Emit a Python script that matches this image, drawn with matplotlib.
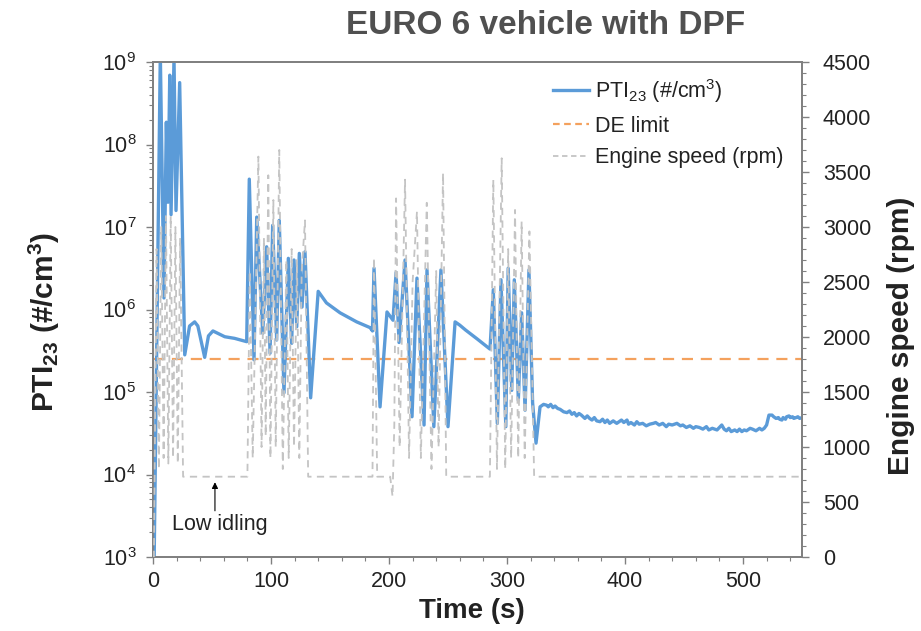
import matplotlib
matplotlib.use("Agg")
import matplotlib.pyplot as plt
import numpy as np
from matplotlib.ticker import MultipleLocator, FixedLocator, LogLocator, NullFormatter
from matplotlib.lines import Line2D

plt.rcParams['font.family'] = ['Liberation Sans', 'DejaVu Sans']
plt.rcParams['mathtext.fontset'] = 'custom'
plt.rcParams['mathtext.rm'] = 'Liberation Sans'
plt.rcParams['mathtext.it'] = 'Liberation Sans:italic'
plt.rcParams['mathtext.bf'] = 'Liberation Sans:bold'

# ---------------- data ----------------
# PTI23 (#/cm3): time (s) and log10 of concentration, driving part
pti_time = [0, 1.0, 6.2, 9.3, 11.3, 12.7, 14.2, 15.3, 17.8, 19.5, 22.6, 26.9,
            31, 35.3, 38, 43.8, 47, 50.8, 60.8, 69.2, 79.4,
            81.6, 85.6, 87.9, 93, 96.3, 99.2, 101.4, 104.8, 107, 111, 114.7,
            117.5, 119.5, 121.8, 124, 126.3, 128.8, 133.6, 140, 147, 158.5,
            172.6, 184, 186,
            187.3, 192.4, 198.3, 203.4, 206, 208.5, 213.6, 219.5, 223.7, 229.7,
            232.2, 238, 244, 250, 256, 260, 265, 275, 285.6,
            288.4, 291.8, 294.9, 299, 301, 304, 306.2, 309.6, 312.4, 315.3,
            318.6, 321.7, 324.6, 328, 331, 333.6]
pti_log = [3.0, 3.0, 9.1, 6.14, 8.27, 7.3, 8.84, 7.15, 9.05, 7.2, 8.75, 5.45,
           5.8, 5.85, 5.8, 5.42, 5.68, 5.74, 5.67, 5.65, 5.61,
           7.58, 5.39, 7.12, 5.71, 6.76, 5.47, 7.02, 5.63, 7.08, 4.99, 6.62,
           5.59, 6.6, 5.79, 6.68, 6.03, 6.7, 4.93, 6.22, 6.08, 5.96,
           5.85, 5.78, 5.74,
           6.50, 4.82, 5.97, 5.87, 6.45, 5.6, 6.6, 4.7, 6.38, 4.6,
           6.48, 4.58, 6.48, 4.58, 5.85, 5.81, 5.75, 5.64, 5.52,
           6.24, 4.62, 6.36, 4.58, 6.5, 5.02, 6.36, 4.9, 5.96, 4.78,
           6.48, 4.87, 4.38, 4.82, 4.85, 4.84]
# PTI23 idle tail
tail_time = [335, 337, 339, 340.7, 343, 345, 348, 350.8, 353, 355,
             357, 359, 361, 363, 366, 368, 370, 372, 374, 376,
             378.8, 381, 383, 385, 387, 390, 393, 395, 397, 399,
             401.7, 403, 405, 408, 410, 412, 415, 418, 421, 424,
             426, 429, 432, 435, 437, 440, 444, 447, 449, 452,
             455, 458, 460, 463, 466, 469, 471, 474, 478, 480,
             482, 484, 486, 488, 490, 493, 495, 497, 499, 501,
             503, 506, 508, 511, 514, 516, 518, 520, 521, 522,
             524.6, 526, 528, 530, 531, 533, 534, 536, 537, 539,
             540, 542, 543, 545, 546.5, 548, 550]
tail_log = [4.82, 4.85, 4.81, 4.83, 4.80, 4.79, 4.76, 4.75, 4.77, 4.73,
            4.75, 4.71, 4.74, 4.72, 4.68, 4.71, 4.68, 4.66, 4.69, 4.65,
            4.64, 4.67, 4.63, 4.66, 4.62, 4.65, 4.62, 4.64, 4.66, 4.63,
            4.66, 4.61, 4.63, 4.60, 4.64, 4.61, 4.62, 4.59, 4.61, 4.62,
            4.63, 4.60, 4.62, 4.58, 4.61, 4.60, 4.62, 4.59, 4.60, 4.57,
            4.59, 4.56, 4.58, 4.57, 4.55, 4.58, 4.54, 4.56, 4.54, 4.57,
            4.60, 4.55, 4.53, 4.56, 4.52, 4.54, 4.52, 4.55, 4.52, 4.54,
            4.53, 4.56, 4.55, 4.53, 4.56, 4.54, 4.56, 4.60, 4.66, 4.72,
            4.72, 4.70, 4.68, 4.69, 4.67, 4.66, 4.69, 4.67, 4.70, 4.71,
            4.69, 4.70, 4.68, 4.69, 4.70, 4.68, 4.69]

# Engine speed (rpm)
rpm_time = [0, 0.8, 1.5, 3, 5, 7, 9, 11, 13, 15, 17, 19, 21, 23, 25.5,
            80, 82, 84.5, 89.3, 92, 94, 95.5, 97.7, 99.5, 102, 104, 107, 110,
            113, 115, 117.5, 119.5, 122, 124, 126, 128.8, 131.5,
            186, 187.3, 190, 201, 203, 204.5, 206, 209, 213.6, 217, 220, 223.7,
            227, 232, 236, 240, 242, 245.8, 248.5,
            285.5, 288.4, 291.5, 295.5, 298.5, 301, 303.5, 306.8, 309.5, 312.4,
            315, 319, 323, 550]
rpm_value = [0, 0, 900, 2800, 800, 3000, 900, 3100, 850, 3100, 900, 3000, 850, 2900, 730,
             730, 2600, 900, 3640, 1000, 2900, 1100, 3470, 900, 3245, 1000, 3700, 800,
             2700, 900, 2800, 1000, 2700, 900, 2600, 3060, 730,
             730, 2720, 730, 730, 550, 1200, 3260, 1000, 3430, 900, 2500, 3140,
             900, 3220, 800, 2600, 1000, 3490, 730,
             730, 3430, 800, 3625, 800, 2800, 900, 3155, 900, 3050,
             900, 2960, 730, 730]

de_limit = 2.5e5

title_text = "EURO 6 vehicle with DPF"
xlabel_text = "Time (s)"
ylabel_left = r"$\mathbf{PTI_{23}\ (\#/cm^{3})}$"
ylabel_right = "Engine speed (rpm)"
legend_labels = [r"PTI$_{23}$ (#/cm$^{3}$)", "DE limit", "Engine speed (rpm)"]
left_ticks = [1e3, 1e4, 1e5, 1e6, 1e7, 1e8, 1e9]

# ---------------- plot ----------------
W, H = 921, 631
fig = plt.figure(figsize=(W / 100, H / 100), dpi=100)
L, R, T, B = 153, 802, 62, 557
ax = fig.add_axes([L / W, 1 - B / H, (R - L) / W, (B - T) / H])
ax2 = ax.twinx()

blue = '#5B9BD8'
orange = '#F4A15D'
grey = '#C4C4C4'
spine_c = '#808080'

all_t = list(pti_time) + list(tail_time)
all_v = 10 ** np.array(list(pti_log) + list(tail_log))
ax.plot(all_t, all_v, color=blue, lw=2.4, solid_joinstyle='round', zorder=3)
ax.axhline(de_limit, color=orange, lw=1.6, dashes=(5, 3.5), zorder=2)
ax2.plot(rpm_time, rpm_value, color=grey, lw=1.3, dashes=(4, 3), zorder=4)

ax.set_yscale('log')
ax.set_ylim(1e3, 1e9)
ax.set_xlim(0, 550)
ax2.set_ylim(0, 4500)

ax.xaxis.set_major_locator(MultipleLocator(100))
ax.xaxis.set_minor_locator(MultipleLocator(20))
ax.yaxis.set_major_locator(FixedLocator(left_ticks))
ax.yaxis.set_minor_locator(LogLocator(base=10, subs=np.arange(2, 10), numticks=20))
ax.yaxis.set_minor_formatter(NullFormatter())
ax2.yaxis.set_major_locator(MultipleLocator(500))
ax2.yaxis.set_minor_locator(MultipleLocator(100))

fs_tick = 15.5
for a in (ax, ax2):
    a.tick_params(which='major', direction='out', length=5, width=1.0,
                  color=spine_c, labelsize=fs_tick, labelcolor='#222222')
    a.tick_params(which='minor', direction='out', length=3, width=0.8, color=spine_c)
    for s in a.spines.values():
        s.set_color(spine_c)
        s.set_linewidth(1.3)
ax.tick_params(axis='y', pad=7)
ax2.tick_params(axis='y', pad=10)
ax.tick_params(axis='x', pad=5)

ax.set_xlabel(xlabel_text, fontsize=20, fontweight='bold', color='#222222')
ax.xaxis.set_label_coords((472 - L) / (R - L), (B - 598) / (B - T))
ax.set_ylabel(ylabel_left, fontsize=21.5, color='#222222')
ax.yaxis.set_label_coords((62 - L) / (R - L), (B - 322) / (B - T))
ax2.set_ylabel(ylabel_right, fontsize=21.5, fontweight='bold', color='#222222')
ax2.yaxis.set_label_coords((887 - L) / (R - L), (B - 336) / (B - T))

fig.text(546 / W, 1 - 25 / H, title_text, ha='center', va='center',
         fontsize=24, fontweight='bold', color='#505050')

# annotation
ax2.annotate('', xy=(52.5, 680), xytext=(52.5, 420),
             arrowprops=dict(arrowstyle='-|>', color='black', lw=0.8,
                             mutation_scale=9, shrinkA=0, shrinkB=0))
ax2.text(15.8, 295, 'Low idling', fontsize=15.5, ha='left', va='center', color='#222222')

handles = [Line2D([], [], color=blue, lw=2.4),
           Line2D([], [], color=orange, lw=1.6, dashes=(3, 2)),
           Line2D([], [], color=grey, lw=1.3, dashes=(3, 2))]
leg = ax2.legend(handles, legend_labels, loc='upper left',
                 bbox_to_anchor=((553 - L) / (R - L), (B - 77) / (B - T)),
                 frameon=False, fontsize=15.5, handlelength=1.65, handletextpad=0.3,
                 labelspacing=0.5, borderpad=0, borderaxespad=0)
for t in leg.get_texts():
    t.set_color('#222222')

fig.savefig('out.png', dpi=100)
